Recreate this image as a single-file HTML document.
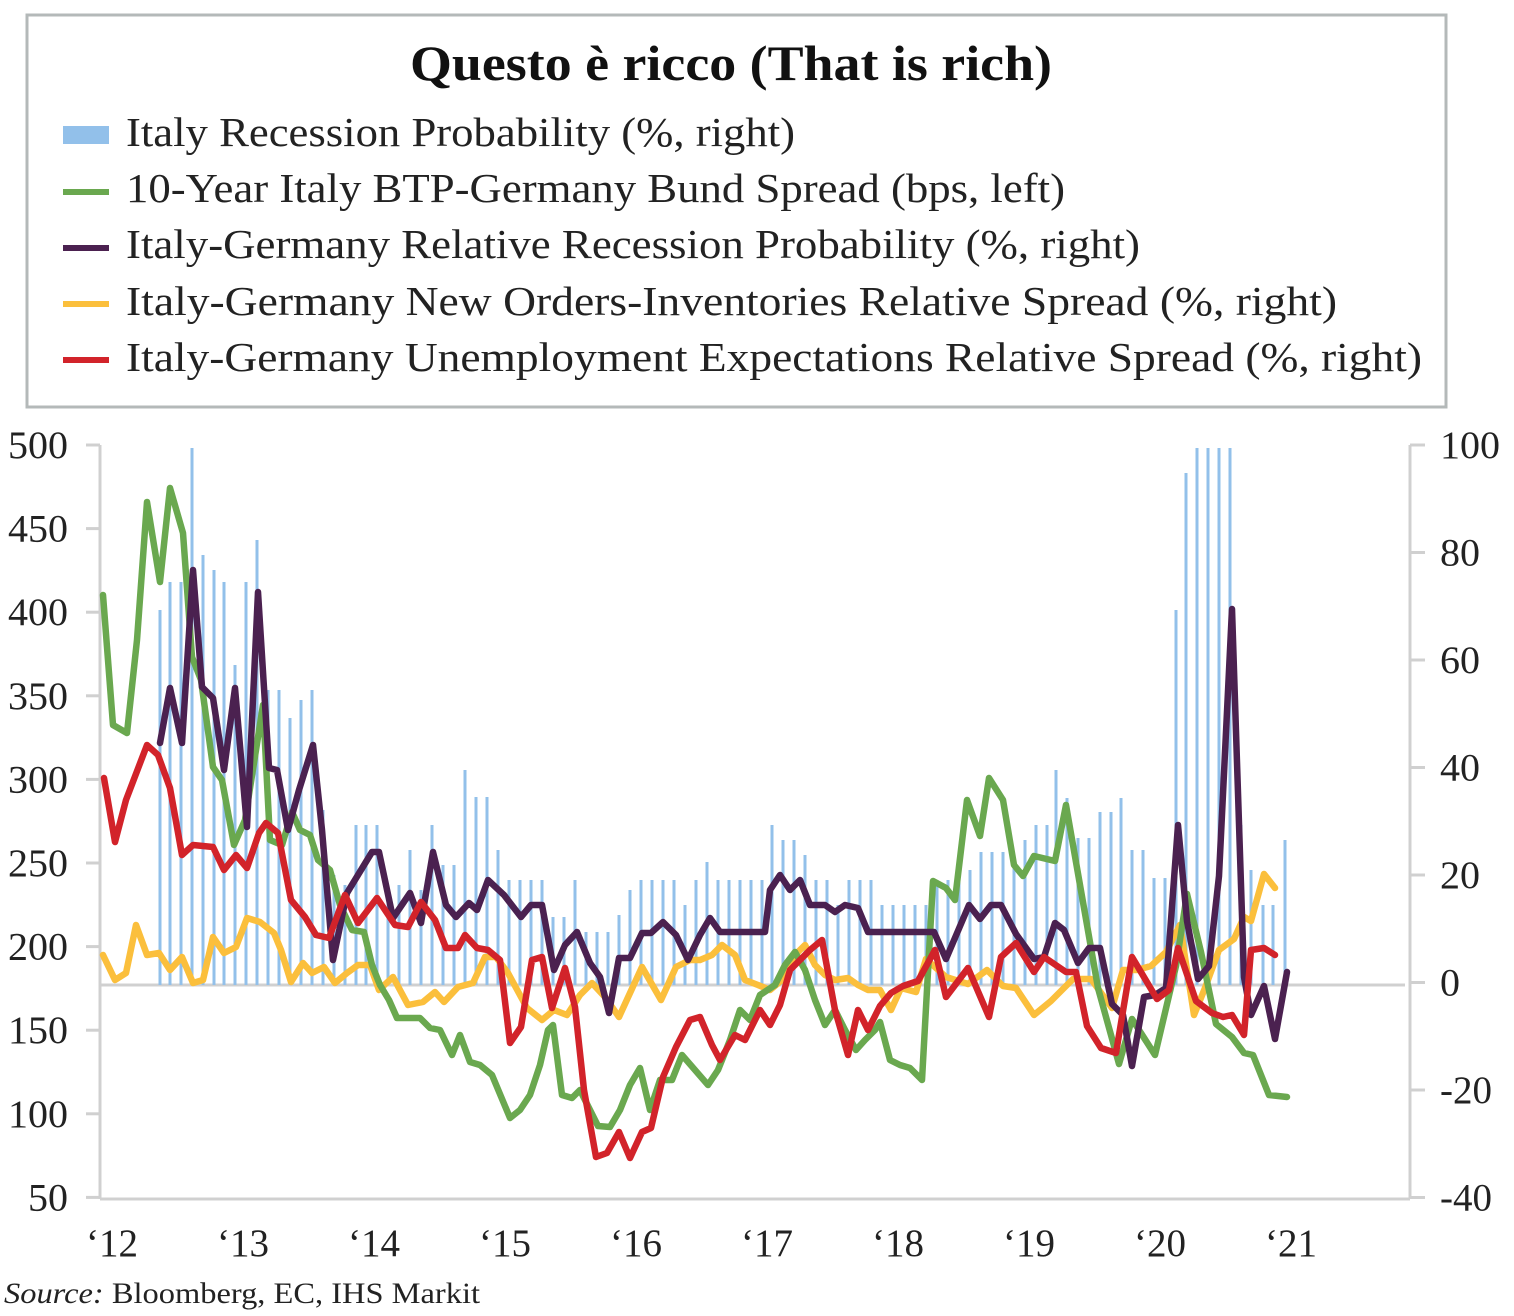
<!DOCTYPE html>
<html><head><meta charset="utf-8"><style>
html,body{margin:0;padding:0;background:#fff;}
svg{display:block;font-family:"Liberation Serif",serif;}
</style></head><body>
<svg id="s" width="1514" height="1316" viewBox="0 0 1514 1316" xmlns="http://www.w3.org/2000/svg">
<rect x="27" y="15" width="1419" height="392" fill="#fff" stroke="#b4b9b9" stroke-width="3"/>
<text x="410" y="80" textLength="642" lengthAdjust="spacingAndGlyphs" font-size="50" font-weight="bold" fill="#111">Questo è ricco (That is rich)</text>
<rect x="63" y="126" width="46" height="18" fill="#92c0ea"/>
<line x1="63" y1="192" x2="109" y2="192" stroke="#6aa84f" stroke-width="6"/>
<line x1="63" y1="248" x2="109" y2="248" stroke="#4b2150" stroke-width="6"/>
<line x1="63" y1="304" x2="109" y2="304" stroke="#fbbf3c" stroke-width="6"/>
<line x1="63" y1="360" x2="109" y2="360" stroke="#d2232a" stroke-width="6"/>
<g font-size="41" fill="#222" lengthAdjust="spacingAndGlyphs">
<text x="126" y="146" textLength="669" lengthAdjust="spacingAndGlyphs">Italy Recession Probability (%, right)</text>
<text x="126" y="202" textLength="939" lengthAdjust="spacingAndGlyphs">10-Year Italy BTP-Germany Bund Spread (bps, left)</text>
<text x="126" y="258" textLength="1014" lengthAdjust="spacingAndGlyphs">Italy-Germany Relative Recession Probability (%, right)</text>
<text x="126" y="315" textLength="1211" lengthAdjust="spacingAndGlyphs">Italy-Germany New Orders-Inventories Relative Spread (%, right)</text>
<text x="126" y="371" textLength="1296" lengthAdjust="spacingAndGlyphs">Italy-Germany Unemployment Expectations Relative Spread (%, right)</text>
</g>
<g stroke="#d0d0d0" stroke-width="3" fill="none">
<line x1="100" y1="445" x2="100" y2="1199"/>
<line x1="100" y1="1199" x2="1410" y2="1199"/>
<line x1="1410" y1="445" x2="1410" y2="1199"/>
<line x1="100" y1="985" x2="1405" y2="985"/>
</g>
<g id="ticks" stroke="#d0d0d0" stroke-width="3"></g>
<g id="bars" fill="#92c0ea"></g>
<g id="lines" fill="none" stroke-width="6.5" stroke-linejoin="round" stroke-linecap="round"></g>
<g font-size="39" fill="#222" text-anchor="end" id="ll"></g>
<g font-size="39" fill="#222" id="rl"></g>
<g font-size="39" fill="#222" text-anchor="middle" id="xl"></g>
<text x="4" y="1303" font-size="30" fill="#222" textLength="476" lengthAdjust="spacingAndGlyphs"><tspan font-style="italic">Source:</tspan>  Bloomberg, EC, IHS Markit</text>
</svg>
<script>
var NS="http://www.w3.org/2000/svg";
function el(p,t,a,txt){var e=document.createElementNS(NS,t);for(var k in a)e.setAttribute(k,a[k]);if(txt!=null)e.textContent=txt;document.getElementById(p).appendChild(e);}
var lv=[500,450,400,350,300,250,200,150,100,50];
lv.forEach(function(v,i){var y=445+i*83.6;var s=String(v);el('ll','text',{x:68,y:y+13,textLength:s.length*20,lengthAdjust:"spacingAndGlyphs"},s);el('ticks','line',{x1:86,y1:y,x2:100,y2:y});});
var rv=[100,80,60,40,20,0,-20,-40];
rv.forEach(function(v,i){var y=445+i*107.5;var s=String(v);var w=s.replace('-','').length*20+(s[0]=='-'?12:0);el('rl','text',{x:1440,y:y+13,textLength:w,lengthAdjust:"spacingAndGlyphs"},s);el('ticks','line',{x1:1410,y1:y,x2:1425,y2:y});});
var yr=["‘12","‘13","‘14","‘15","‘16","‘17","‘18","‘19","‘20","‘21"];
yr.forEach(function(t,i){el('xl','text',{x:112+i*131,y:1256,textLength:52,lengthAdjust:"spacingAndGlyphs"},t);});
var tops=[[160,610],[170,582],[181,582],[192,448],[203,555],[214,570],[224,582],[235,665],[246,582],[257,540],[268,690],[279,690],[290,718],[301,700],[312,690],[323,810],[334,875],[345,885],[356,825],[366,825],[377,825],[388,890],[399,885],[410,850],[421,890],[432,825],[443,865],[454,865],[465,770],[476,797],[487,797],[498,850],[509,880],[520,880],[531,880],[542,880],[553,917],[564,917],[575,880],[586,932],[597,932],[608,932],[619,915],[630,890],[641,880],[652,880],[663,880],[674,880],[685,905],[696,880],[707,862],[718,880],[729,880],[740,880],[751,880],[762,880],[772,825],[783,840],[794,840],[805,855],[816,880],[827,880],[838,905],[849,880],[860,880],[871,880],[882,905],[893,905],[904,905],[915,905],[926,905],[937,880],[948,880],[959,880],[970,870],[981,852],[992,852],[1003,852],[1014,860],[1025,840],[1036,825],[1047,825],[1056,770],[1067,798],[1078,838],[1089,838],[1100,812],[1111,812],[1121,798],[1132,850],[1143,850],[1154,878],[1165,878],[1176,610],[1186,473],[1197,448],[1208,448],[1219,448],[1230,448],[1241,825],[1251,870],[1263,905],[1273,905],[1285,840]];
tops.forEach(function(b){el('bars','rect',{x:b[0]-1.5,y:b[1],width:3,height:985-b[1]});});
function pl(c,s){el('lines','polyline',{points:s,stroke:c});}
pl("#fbbf3c","103,955 115,980 126,973 136,925 147,955 159,953 170,970 182,957 193,983 203,980 213,937 224,953 236,947 247,918 260,922 274,933 281,950 291,982 303,963 312,973 324,967 335,983 347,973 358,965 370,965 379,990 393,977 408,1005 423,1002 435,992 444,1002 458,987 473,983 485,957 496,957 508,973 527,1008 542,1020 554,1010 567,1015 580,995 592,983 605,997 619,1017 630,993 642,967 661,1000 676,967 690,960 700,960 712,955 722,945 735,955 745,980 758,985 770,990 782,980 795,955 805,945 815,965 825,975 835,980 848,978 858,985 868,990 880,990 891,1010 901,988 916,992 926,959 946,977 968,984 987,970 1003,986 1016,988 1034,1015 1051,1001 1073,979 1091,979 1112,1008 1123,970 1137,970 1151,966 1166,952 1180,925 1194,1015 1205,988 1219,950 1234,939 1244,917 1251,921 1264,874 1275,888");
pl("#6aa84f","103,595 113,725 127,733 137,640 147,502 160,582 170,488 183,533 192,657 201,680 213,767 222,780 234,845 245,820 256,750 263,705 270,840 282,845 292,812 300,830 310,835 318,860 330,870 340,905 352,930 364,932 372,965 380,985 389,1000 397,1018 410,1018 420,1018 430,1028 440,1030 452,1055 460,1035 470,1062 480,1065 492,1075 510,1118 520,1110 530,1095 540,1065 548,1030 553,1025 562,1095 572,1098 580,1090 598,1126 610,1127 620,1110 630,1085 640,1068 650,1110 660,1080 672,1080 682,1055 695,1070 708,1085 718,1070 730,1040 740,1010 750,1020 760,995 775,985 785,965 795,952 805,970 815,1000 825,1025 835,1010 845,1030 856,1050 865,1040 875,1030 880,1022 890,1060 900,1065 910,1068 922,1080 933,881 946,888 955,900 967,800 980,836 989,778 1003,800 1014,865 1023,876 1034,856 1055,861 1066,805 1087,925 1098,988 1119,1064 1132,1019 1155,1055 1176,966 1187,894 1201,952 1216,1024 1232,1037 1244,1053 1253,1055 1269,1095 1287,1097");
pl("#4b2150","160,743 170,688 182,743 193,570 202,687 213,698 224,770 235,688 247,827 258,592 269,768 277,770 288,830 299,790 313,745 322,830 333,960 347,893 372,852 379,852 393,918 410,893 421,923 433,852 446,905 456,917 469,903 477,910 488,880 504,895 521,917 531,905 542,905 554,970 565,945 577,932 590,963 600,977 609,1013 619,958 630,958 642,933 651,933 663,922 676,935 688,960 700,935 710,918 720,932 745,932 765,932 770,890 780,875 790,890 800,880 810,905 825,905 835,912 845,905 858,908 868,932 934,932 946,959 969,905 980,919 991,905 1001,905 1016,934 1034,959 1044,957 1055,923 1064,930 1078,963 1089,948 1100,948 1112,1004 1123,1015 1132,1066 1144,997 1155,995 1166,988 1178,825 1187,921 1198,979 1209,966 1219,876 1232,609 1244,977 1251,1015 1264,986 1275,1039 1287,972");
pl("#d2232a","104,778 115,842 126,800 147,745 158,755 170,788 182,855 193,845 213,847 224,870 236,855 247,868 259,833 266,823 278,833 291,900 305,917 316,935 329,938 345,895 358,923 377,898 395,925 408,927 421,902 435,920 446,948 458,948 465,935 477,948 488,950 500,960 510,1043 521,1027 532,960 542,957 552,1008 565,968 575,1007 584,1090 596,1157 607,1153 619,1132 630,1158 642,1132 651,1128 663,1077 676,1047 690,1020 700,1017 712,1045 720,1060 735,1035 745,1040 760,1010 770,1025 780,1005 790,970 800,960 810,950 822,940 835,1010 848,1055 858,1010 868,1030 880,1006 891,993 903,986 918,981 935,950 946,997 968,968 989,1017 1001,957 1016,943 1034,972 1044,957 1066,972 1076,972 1087,1026 1101,1048 1116,1053 1132,957 1157,999 1169,990 1178,948 1196,1001 1212,1013 1223,1017 1232,1015 1244,1035 1251,950 1264,948 1275,955");
</script>
</body></html>
